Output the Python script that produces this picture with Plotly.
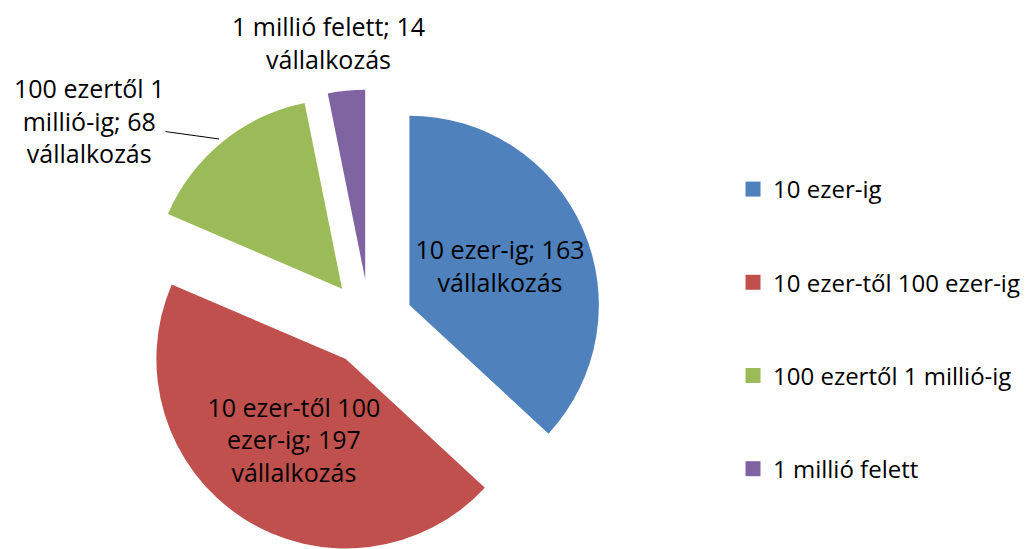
import plotly.graph_objects as go

categories = ["10 ezer-ig", "10 ezer-től 100 ezer-ig", "100 ezertől 1 millió-ig", "1 millió felett"]
slice_labels = ["10 ezer-ig", "10 ezer-től 100<br>ezer-ig", "100 ezertől 1<br>millió-ig", "1 millió felett"]
counts = [163, 197, 68, 14]
unit = "vállalkozás"
colors = ["#4F81BD", "#C0504D", "#9BBB59", "#8064A2"]
pulls = [0.23, 0.23, 0.23, 0.23]
text_pos = ["inside", "inside", "none", "none"]

FONT = "Open Sans"
FS = 25
LFS = 24

def label_text(i):
    return f"{slice_labels[i]}; {counts[i]}<br>{unit}"

fig = go.Figure()
fig.add_trace(go.Pie(
    labels=categories,
    values=counts,
    text=slice_labels,
    texttemplate="%{text}; %{value}<br>" + unit,
    textposition=text_pos,
    insidetextorientation="horizontal",
    sort=False,
    direction="clockwise",
    rotation=0,
    pull=pulls,
    automargin=False,
    marker=dict(colors=colors, line=dict(width=0)),
    textfont=dict(family=FONT, size=FS, color="black"),
    insidetextfont=dict(family=FONT, size=FS, color="black"),
    showlegend=False,
    hoverinfo="label+value",
    domain=dict(x=[0.1242, 0.5744], y=[0, 1]),
))

for cat, col in zip(categories, colors):
    fig.add_trace(go.Scatter(
        x=[None], y=[None], mode="markers", name=cat, legendgroup=cat,
        marker=dict(symbol="square", size=15, color=col),
    ))

# outside labels (green with leader line, purple above its slice)
fig.add_annotation(
    text=label_text(2), xref="paper", yref="paper", x=0.2039, y=0.8913,
    showarrow=True, arrowhead=0, arrowwidth=1, arrowcolor="#000000",
    ax=-130, ay=-18, align="center",
    font=dict(family=FONT, size=FS, color="black"),
)
fig.add_annotation(
    text=label_text(3), xref="paper", yref="paper", x=0.3092, y=1.096,
    showarrow=False, xanchor="center", yanchor="middle", align="center",
    font=dict(family=FONT, size=FS, color="black"),
)

fig.update_layout(
    width=1035, height=549,
    margin=dict(l=0, r=0, t=80, b=0, autoexpand=False),
    paper_bgcolor="white", plot_bgcolor="white",
    xaxis=dict(visible=False), yaxis=dict(visible=False),
    uniformtext=dict(minsize=FS, mode="show"),
    legend=dict(
        x=0.7005, xanchor="left", y=0.8316, yanchor="top",
        font=dict(family=FONT, size=LFS, color="black"),
        tracegroupgap=59, bgcolor="rgba(0,0,0,0)",
    ),
)

fig.write_html("out.html")
